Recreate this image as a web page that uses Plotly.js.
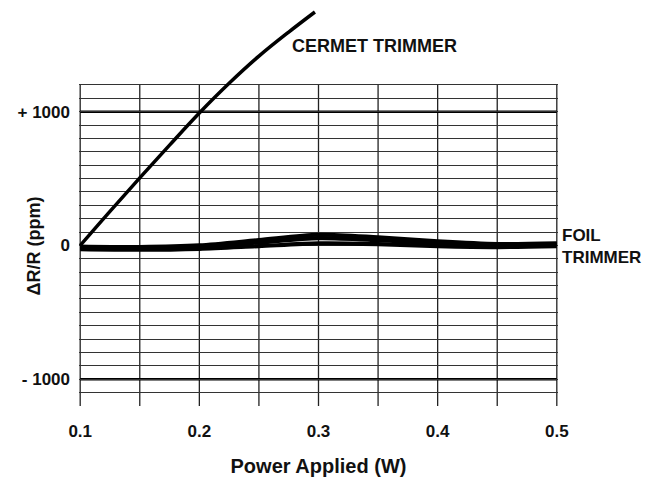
<!DOCTYPE html>
<html>
<head>
<meta charset="utf-8">
<script src="https://cdn.plot.ly/plotly-3.0.1.min.js"></script>
<style>html,body{margin:0;padding:0;background:#fff;}#chart{width:648px;height:477px;}</style>
</head>
<body>
<div id="chart"></div>
<script>
// Data
var cermetX = [0.1, 0.125, 0.15, 0.175, 0.2, 0.225, 0.25, 0.275, 0.297];
var cermetY = [0, 255, 505, 750, 990, 1212, 1415, 1595, 1745];
var foilX = [0.1, 0.15, 0.2, 0.25, 0.3, 0.35, 0.4, 0.45, 0.5];
var foilUpper = [-8, -12, 0, 40, 80, 60, 30, 10, 15];
var foilMiddle = [-18, -22, -12, 22, 55, 40, 15, 2, 8];
var foilLower = [-28, -32, -25, -5, 15, 10, -5, -12, -5];
var xTicks = [0.1, 0.2, 0.3, 0.4, 0.5];
var xTickText = ['0.1', '0.2', '0.3', '0.4', '0.5'];
var yGridVals = [];
for (var v = -1200; v <= 1200; v += 100) yGridVals.push(v);
var yLabelVals = [1000, 0, -1000];
var yLabelText = ['+ 1000', '0', '- 1000'];
var xGridVals = [0.1, 0.15, 0.2, 0.25, 0.3, 0.35, 0.4, 0.45, 0.5];

var font = 'Liberation Sans, Arial, sans-serif';

var traces = [
  {x: cermetX, y: cermetY, mode: 'lines', line: {color: '#000', width: 3.5, shape: 'spline', smoothing: 1}, hoverinfo: 'skip'},
  {x: foilX, y: foilLower, mode: 'lines', line: {color: '#000', width: 4.2, shape: 'spline', smoothing: 0.8}, hoverinfo: 'skip'},
  {x: foilX, y: foilMiddle, mode: 'lines', line: {color: '#000', width: 4.2, shape: 'spline', smoothing: 0.8}, hoverinfo: 'skip'},
  {x: foilX, y: foilUpper, mode: 'lines', line: {color: '#000', width: 4.2, shape: 'spline', smoothing: 0.8}, hoverinfo: 'skip'}
];

var shapes = [];
xGridVals.forEach(function (xv) {
  shapes.push({type: 'line', xref: 'x', yref: 'y', x0: xv, x1: xv, y0: -1200, y1: 1200,
    line: {color: '#222', width: 1.3}, layer: 'below'});
});
[1000, -1000].forEach(function (yv) {
  shapes.push({type: 'line', xref: 'x', yref: 'y', x0: 0.1, x1: 0.5, y0: yv, y1: yv,
    line: {color: '#000', width: 2.6}, layer: 'below'});
});

var layout = {
  width: 648, height: 477,
  margin: {l: 79, r: 90, t: 10, b: 71},
  paper_bgcolor: '#fff', plot_bgcolor: '#fff',
  showlegend: false,
  font: {family: font, color: '#111'},
  xaxis: {
    range: [0.099, 0.501], showgrid: false, zeroline: false, showline: false,
    tickvals: xTicks, ticktext: xTickText, ticks: '',
    tickfont: {family: font, size: 17, color: '#111', weight: 'bold'},
    ticklabelstandoff: 13,
    title: {text: 'Power Applied (W)', font: {family: font, size: 20, color: '#111', weight: 'bold'}, standoff: 18}
  },
  yaxis: {
    range: [-1200, 1760], showgrid: true, gridcolor: '#333', gridwidth: 1,
    zeroline: false, showline: false,
    tickvals: yGridVals,
    ticktext: yGridVals.map(function (v) { var i = yLabelVals.indexOf(v); return i >= 0 ? yLabelText[i] : ''; }),
    ticks: '',
    tickfont: {family: font, size: 17, color: '#111', weight: 'bold'},
    ticklabelstandoff: 8
  },
  shapes: shapes,
  annotations: [
    {text: '\u0394R/R (ppm)', xref: 'paper', yref: 'y', x: -0.092, y: 0, textangle: -90,
     showarrow: false, xanchor: 'center', yanchor: 'middle',
     font: {family: font, size: 18, color: '#111', weight: 'bold'}},
    {text: 'CERMET TRIMMER', xref: 'paper', yref: 'paper', x: 0.44, y: 0.91, showarrow: false,
     xanchor: 'left', yanchor: 'middle', font: {family: font, size: 18, color: '#111', weight: 'bold'}},
    {text: 'FOIL<br>TRIMMER', xref: 'paper', yref: 'y', x: 1.005, y: -10, showarrow: false,
     xanchor: 'left', yanchor: 'middle', align: 'left',
     font: {family: font, size: 17, color: '#111', weight: 'bold'}}
  ]
};

Plotly.newPlot('chart', traces, layout, {staticPlot: true});
</script>
</body>
</html>
